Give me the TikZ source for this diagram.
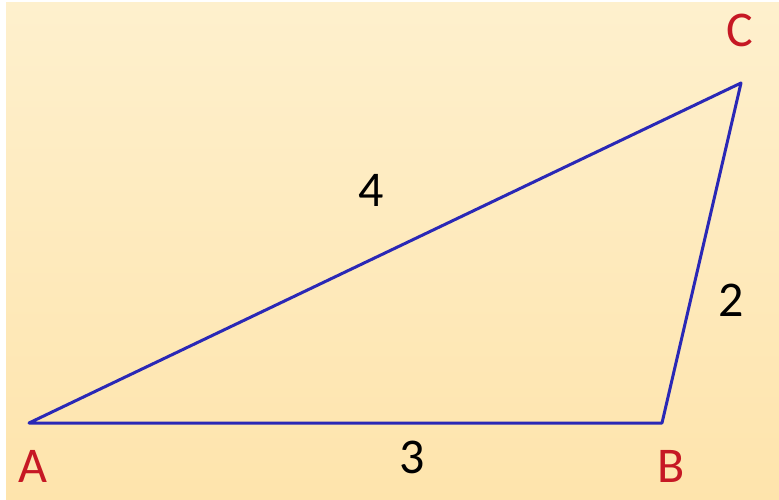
\documentclass[tikz,border=0pt]{standalone}
\usepackage{fontspec}
\setmainfont{Carlito}
\usetikzlibrary{positioning}
\definecolor{edgeblue}{RGB}{42,40,182}
\definecolor{vertred}{RGB}{198,24,36}
\definecolor{bgtop}{RGB}{254,240,205}
\definecolor{bgbot}{RGB}{254,228,172}
\tikzset{
  side/.style={draw=edgeblue,line width=3pt,line join=round},
  vlabel/.style={text=vertred,font=\fontsize{50}{58}\selectfont,inner sep=0pt},
  slabel/.style={text=black,font=\fontsize{50}{58}\selectfont,inner sep=0pt}
}

\begin{document}
\begin{tikzpicture}[x=1pt,y=-1pt]

% page and background
\useasboundingbox[fill=white] (0,0) rectangle (779,500);
\shade[top color=bgtop,bottom color=bgbot] (6,3) rectangle (779,500);

% vertices
\coordinate (A) at (29,423);
\coordinate (B) at (662,423);
\coordinate (C) at (741,83);

\draw[side] (A) -- (B) -- (C) -- cycle;

% vertex names
\node[vlabel] (la) at (33,466) {A};
\node[vlabel] (lb) at (671,466) {B};
\node[vlabel] (lc) at (740,30) {C};

% side lengths
\node[slabel] (sac) at (371,190) {4};
\node[slabel] (sab) at (412,457) {3};
\node[slabel] (sbc) at (731,300) {2};

\end{tikzpicture}
\end{document}
